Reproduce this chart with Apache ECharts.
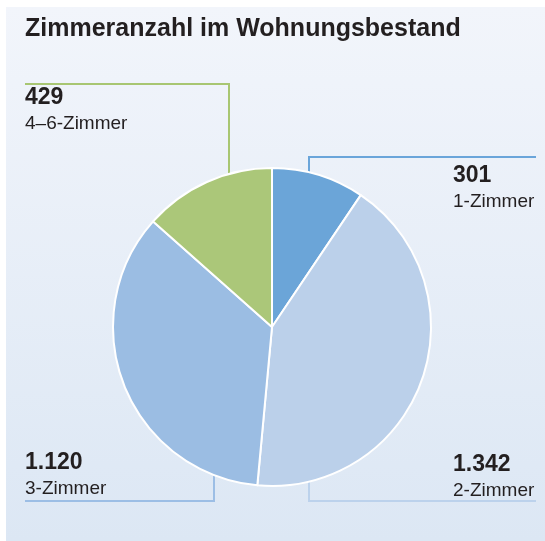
<!DOCTYPE html>
<html>
<head>
<meta charset="utf-8">
<script src="https://cdn.jsdelivr.net/npm/echarts@6/dist/echarts.min.js"></script>
<style>
  html, body { margin: 0; padding: 0; background: #ffffff; }
  #chart { width: 545px; height: 541px; }
</style>
</head>
<body>
<div id="chart"></div>
<script>
// Daten
const categories = ['1-Zimmer', '2-Zimmer', '3-Zimmer', '4–6-Zimmer']
const values = [301, 1342, 1120, 429]
const colors = ['#6ba5d8', '#bbd0ea', '#9bbde3', '#abc779']
const title = 'Zimmeranzahl im Wohnungsbestand'

// Pie-Geometrie
const cx = 272, cy = 327, r = 159

// Beschriftungen (x, y oben links)
const labelPos = [[453, 163], [453, 452], [25, 450], [25, 85]]

// Hinweislinien: senkrecht bei x, waagerecht bei y bis x2
const guides = [
  { x: 309, y: 157, x2: 536, top: true, color: '#6aa5da' },
  { x: 309, y: 501, x2: 536, top: false, color: '#bcd2ec' },
  { x: 214, y: 501, x2: 25, top: false, color: '#9cbee5' },
  { x: 229, y: 84, x2: 25, top: true, color: '#a8c672' }
]

const fmt = v => String(v).replace(/\B(?=(\d{3})+(?!\d))/g, '.')

const chart = echarts.init(document.getElementById('chart'))

const guideLines = guides.map(g => {
  const h = Math.sqrt(r * r - (g.x - cx) * (g.x - cx))
  const edgeY = g.top ? cy - h : cy + h
  return {
    type: 'polyline',
    z: 1,
    shape: { points: [[g.x, edgeY], [g.x, g.y], [g.x2, g.y]] },
    style: { stroke: g.color, lineWidth: 2, fill: null }
  }
})

const option = {
  backgroundColor: 'transparent',
  animation: false,
  graphic: [
    {
      type: 'rect',
      z: -10,
      shape: { x: 6, y: 7, width: 539, height: 534 },
      style: {
        fill: new echarts.graphic.LinearGradient(0, 0, 0, 1, [
          { offset: 0, color: '#f2f5fb' },
          { offset: 1, color: '#dce7f4' }
        ])
      }
    },
    {
      type: 'text',
      left: 25,
      top: 17,
      style: {
        text: title,
        font: 'bold 25px "Liberation Sans", Arial, sans-serif',
        fill: '#231f20'
      }
    },
    ...guideLines
  ],
  series: [
    {
      type: 'pie',
      center: [cx, cy],
      radius: r,
      startAngle: 90,
      clockwise: true,
      z: 3,
      avoidLabelOverlap: false,
      data: categories.map((c, i) => ({
        name: c,
        value: values[i],
        itemStyle: { color: colors[i] }
      })),
      itemStyle: { borderColor: '#ffffff', borderWidth: 2 },
      emphasis: { disabled: true },
      labelLine: { show: false },
      label: {
        show: true,
        formatter: p => '{v|' + fmt(p.value) + '}\n{n|' + p.name + '}',
        rich: {
          v: {
            fontFamily: '"Liberation Sans", Arial, sans-serif',
            fontSize: 23,
            fontWeight: 'bold',
            color: '#231f20',
            lineHeight: 26
          },
          n: {
            fontFamily: '"Liberation Sans", Arial, sans-serif',
            fontSize: 19,
            color: '#231f20',
            lineHeight: 25
          }
        }
      },
      labelLayout: params => {
        const p = labelPos[params.dataIndex]
        return { x: p[0], y: p[1], align: 'left', verticalAlign: 'top' }
      }
    }
  ]
}

chart.setOption(option)
</script>
</body>
</html>
